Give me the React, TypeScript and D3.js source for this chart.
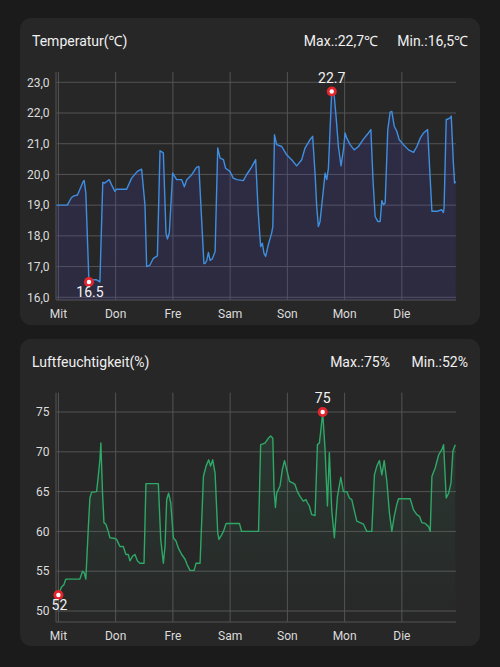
import React from "react";
import * as d3 from "d3";

const dayLabels = ["Mit", "Don", "Fre", "Sam", "Son", "Mon", "Die"];
const dayHours = [0, 24, 48, 72, 96, 120, 144];

const tempTicks = [16, 17, 18, 19, 20, 21, 22, 23];
const humTicks = [50, 55, 60, 65, 70, 75];

const tempHours = [
  -0.8, 3.7, 5.5, 6.5, 8.0, 10.4, 10.8, 11.5, 12.8, 13.9, 16.0, 17.4, 18.6, 19.5, 20.2, 21.3, 22.3, 23.7,
  24.4, 28.6, 30.7, 33.1, 34.9, 36.3, 37.0, 38.4, 39.8, 41.5, 42.6, 44.0, 45.1, 45.7, 46.5, 47.9,
  49.6, 51.7, 52.8, 53.8, 55.9, 57.9, 58.9, 61.0, 61.5, 62.2, 62.9, 63.6, 64.5, 65.7, 66.8, 67.8,
  69.2, 70.1, 71.9, 73.3, 74.8, 77.5, 78.9, 81.0, 82.7, 83.8, 84.8, 85.5, 86.2, 86.9, 88.0, 89.4,
  89.9, 90.6, 91.5, 93.6, 95.7, 97.8, 99.9, 102.0, 103.4, 105.5, 106.6, 107.6, 108.3, 109.0, 109.7,
  111.1, 111.8, 112.5, 113.2, 113.9, 114.6, 115.6, 116.4, 117.4, 118.5, 119.5, 120.2, 120.9, 122.3,
  124.0, 125.8, 127.9, 130.0, 131.0, 131.9, 132.8, 133.9, 134.9, 135.6, 136.3, 137.0, 138.1, 139.1,
  139.8, 140.8, 141.9, 142.9, 144.7, 146.8, 148.9, 150.3, 151.7, 153.1, 154.8, 155.9, 156.6, 158.7,
  160.7, 161.4, 161.7, 162.6, 164.3, 164.7, 165.6, 166.1, 166.6,
];
const tempValues = [
  19.0, 19.0, 19.25, 19.3, 19.33, 19.77, 19.8, 19.4, 16.5, 16.57, 16.57, 16.5, 19.74, 19.72, 19.77, 19.83, 19.66, 19.45,
  19.52, 19.52, 19.88, 20.1, 20.17, 19.0, 17.0, 17.05, 17.27, 17.35, 20.77, 20.7, 18.1, 17.9, 18.1, 20.04,
  19.83, 19.83, 19.6, 19.83, 19.99, 20.23, 20.26, 17.1, 17.1, 17.2, 17.46, 17.2, 17.25, 17.49, 20.86, 20.53,
  20.48, 20.2, 20.1, 19.88, 19.83, 19.8, 19.99, 20.24, 20.48, 18.74, 17.65, 17.76, 17.43, 17.33, 17.71, 18.09,
  18.3, 21.29, 20.97, 20.91, 20.64, 20.48, 20.28, 20.48, 20.86, 21.13, 21.24, 20.04, 18.96, 18.3, 18.47,
  19.5, 20.04, 19.83, 20.2, 21.46, 22.7, 22.6, 21.9, 20.91, 20.28, 20.8, 21.35, 21.18, 20.97,
  20.8, 20.91, 21.15, 21.35, 21.46, 19.83, 18.63, 18.47, 18.47, 19.15, 19.01, 19.07, 21.46, 22.03,
  22.05, 21.57, 21.4, 21.13, 20.97, 20.8, 20.72, 20.91, 21.18, 21.35, 21.46, 19.83, 18.8, 18.8,
  18.85, 18.76, 18.9, 21.78, 21.84, 21.9, 20.37, 19.72, 19.77,
];

const humHours = [
  0, 1.3, 2.3, 3.1, 9.0, 10.1, 10.8, 11.5, 12.5, 13.2, 13.9, 16.0, 16.7, 17.4, 17.8, 18.5, 19.1, 19.9,
  20.9, 21.6, 23.7, 24.4, 25.8, 27.2, 28.3, 29.3, 30.0, 31.1, 32.1, 33.1, 34.2, 35.9, 36.7, 41.9,
  42.9, 44.0, 44.7, 45.4, 46.2, 47.1, 48.2, 49.3, 50.3, 51.7, 53.1, 54.0, 55.2, 56.9, 57.7, 59.4,
  60.8, 61.9, 63.0, 63.8, 64.7, 65.7, 66.8, 67.3, 68.5, 69.2, 70.3, 75.9, 76.8, 83.9, 84.8, 86.6,
  88.0, 89.0, 89.9, 90.4, 91.0, 91.5, 92.9, 93.9, 94.8, 95.7, 96.9, 98.2, 99.2, 100.2, 101.3, 102.7,
  103.8, 104.4, 105.2, 106.2, 107.6, 108.6, 109.4, 110.0, 110.8, 111.8, 112.8, 113.6, 114.6, 115.7,
  117.0, 118.4, 119.5, 120.9, 122.0, 123.0, 124.0, 125.1, 126.5, 127.9, 129.3, 131.4, 132.5, 133.5,
  134.6, 135.6, 136.6, 137.7, 138.8, 139.8, 140.8, 141.9, 142.6, 147.5, 148.9, 150.3, 151.4, 152.4,
  153.8, 155.2, 155.9, 156.6, 158.0, 159.4, 160.8, 161.5, 162.6, 163.6, 164.6, 165.4, 166.4,
];
const humValues = [
  52, 53.0, 53.3, 54.0, 54.0, 55.0, 54.8, 54.0, 60.2, 64.2, 64.9, 65.0, 66.9, 69.0, 71.1, 64.8, 61.1, 60.9,
  60.0, 59.2, 59.1, 59.0, 58.1, 58.1, 57.1, 57.1, 56.3, 56.9, 57.1, 56.3, 56.0, 56.0, 66.0, 66.0,
  59.0, 56.0, 58.1, 64.0, 64.8, 63.6, 59.2, 58.8, 57.9, 57.1, 56.5, 55.8, 55.1, 55.1, 56.0, 56.0,
  66.9, 68.2, 69.0, 68.2, 69.0, 67.3, 59.8, 59.0, 59.6, 60.0, 61.0, 61.0, 60.0, 60.0, 70.9, 71.1,
  71.7, 72.0, 71.7, 65.3, 63.0, 64.8, 65.7, 67.8, 68.9, 67.8, 66.3, 66.1, 65.9, 65.0, 64.4, 63.8,
  64.0, 63.6, 63.2, 62.1, 62.0, 70.9, 71.1, 72.6, 75.0, 70.3, 63.2, 69.9, 62.7, 59.2,
  64.4, 66.8, 65.0, 65.0, 64.2, 64.0, 62.7, 61.3, 61.1, 60.9, 60.0, 60.0, 67.1, 68.2,
  68.9, 67.1, 68.9, 66.3, 62.3, 60.0, 61.9, 63.4, 64.1, 64.1, 62.7, 62.1, 61.9, 61.1,
  61.0, 60.6, 60.0, 66.9, 68.0, 69.6, 70.3, 70.9, 64.2, 64.8, 66.1, 70.1, 70.9,
];

const FONT = "Roboto, 'Noto Sans', sans-serif";

type ChartProps = {
  top: number;
  title: string;
  maxText: string;
  minText: string;
  maxTextEnd: number;
  hours: number[];
  values: number[];
  ticks: number[];
  yDomain: [number, number];
  plotTop: number;
  plotBottom: number;
  lineColor: string;
  fillId: string;
  tickFmt: (v: number) => string;
  labelFmt: (v: number) => string;
  fillStops: [string, number][];
};

function Chart(p: ChartProps) {
  const cardTop = p.top;
  const x = d3.scaleLinear().domain([-0.8, 166.7]).range([56.5, 456]);
  const y = d3.scaleLinear().domain(p.yDomain).range([p.plotBottom, p.plotTop]);
  const pts = p.hours.map((h, i) => [h, p.values[i]] as [number, number]);
  const line = d3.line<[number, number]>().x((d) => x(d[0])).y((d) => y(d[1]));
  const area = d3
    .area<[number, number]>()
    .x((d) => x(d[0]))
    .y0(p.plotBottom)
    .y1((d) => y(d[1]));
  const maxIdx = d3.maxIndex(p.values);
  const minIdx = d3.minIndex(p.values);
  const grid = "#545454";
  const marker = (i: number, above: boolean) => {
    const cx = x(p.hours[i]);
    const cy = y(p.values[i]);
    return (
      <g>
        <circle cx={cx} cy={cy} r={5} fill="#e3262d" />
        <circle cx={cx} cy={cy} r={2.2} fill="#ffffff" />
        <text
          x={cx + (above ? 0 : 1)}
          y={above ? cy - 9 : cy + 15}
          textAnchor="middle"
          fontSize={14}
          fill="#f2f2f2"
          fontFamily={FONT}
        >
          {p.labelFmt(p.values[i])}
        </text>
      </g>
    );
  };
  return (
    <g>
      <defs>
        <linearGradient id={p.fillId} x1="0" y1="0" x2="0" y2="1">
          {p.fillStops.map((s, i) => (
            <stop key={i} offset={i / (p.fillStops.length - 1)} stopColor={s[0]} stopOpacity={s[1]} />
          ))}
        </linearGradient>
      </defs>
      <rect x={20} y={cardTop} width={460} height={307} rx={11} fill="#272727" />
      <text x={32} y={cardTop + 28} fontSize={14} fill="#f0f0f0" fontFamily={FONT}>
        {p.title}
      </text>
      <text x={p.maxTextEnd} y={cardTop + 28} fontSize={14} fill="#f0f0f0" fontFamily={FONT} textAnchor="end">
        {p.maxText}
      </text>
      <text x={468} y={cardTop + 28} fontSize={14} fill="#f0f0f0" fontFamily={FONT} textAnchor="end">
        {p.minText}
      </text>
      {p.ticks.map((t) => (
        <line key={"h" + t} x1={56.5} x2={456} y1={y(t)} y2={y(t)} stroke={grid} strokeWidth={1} />
      ))}
      {dayHours.map((h) => (
        <line key={"v" + h} x1={x(h)} x2={x(h)} y1={p.plotTop} y2={p.plotBottom} stroke={grid} strokeWidth={1} />
      ))}
      <line x1={56} x2={56} y1={p.plotTop} y2={p.plotBottom} stroke={grid} strokeWidth={1} />
      <line x1={56} x2={456} y1={p.plotBottom} y2={p.plotBottom} stroke={grid} strokeWidth={1} />
      <path d={area(pts) || ""} fill={`url(#${p.fillId})`} />
      <path d={line(pts) || ""} fill="none" stroke={p.lineColor} strokeWidth={1.4} strokeLinejoin="round" />
      {p.ticks.map((t) => (
        <text
          key={"yl" + t}
          x={49.5}
          y={y(t) + 4.3}
          textAnchor="end"
          fontSize={12}
          fill="#dcdcdc"
          fontFamily={FONT}
        >
          {p.tickFmt(t)}
        </text>
      ))}
      {dayHours.map((h, i) => (
        <text
          key={"xl" + h}
          x={x(h)}
          y={p.plotBottom + 18}
          textAnchor="middle"
          fontSize={12}
          fill="#dcdcdc"
          fontFamily={FONT}
        >
          {dayLabels[i]}
        </text>
      ))}
      {marker(maxIdx, true)}
      {marker(minIdx, false)}
    </g>
  );
}

export default function App() {
  return (
    <div style={{ position: "fixed", left: 0, top: 0, width: 500, height: 667, background: "#1b1b1b" }}>
      <svg width={500} height={667} style={{ display: "block" }}>
        <rect x={0} y={0} width={500} height={667} fill="#1b1b1b" />
        <Chart
          top={18}
          title="Temperatur(℃)"
          maxText="Max.:22,7℃"
          minText="Min.:16,5℃"
          maxTextEnd={378}
          hours={tempHours}
          values={tempValues}
          ticks={tempTicks}
          yDomain={[15.912, 23.335]}
          plotTop={72}
          plotBottom={300}
          lineColor="#3f8ee0"
          fillId="tempFill"
          tickFmt={(v) => v.toFixed(1).replace(".", ",")}
          labelFmt={(v) => v.toFixed(1)}
          fillStops={[
            ["#4a40c0", 0.2],
            ["#4a40c0", 0.16],
          ]}
        />
        <Chart
          top={339}
          title="Luftfeuchtigkeit(%)"
          maxText="Max.:75%"
          minText="Min.:52%"
          maxTextEnd={390}
          hours={humHours}
          values={humValues}
          ticks={humTicks}
          yDomain={[48.616, 77.428]}
          plotTop={392.7}
          plotBottom={622}
          lineColor="#2ea866"
          fillId="humFill"
          tickFmt={(v) => String(v)}
          labelFmt={(v) => String(Math.round(v))}
          fillStops={[
            ["#3aa070", 0.16],
            ["#3aa070", 0.0],
          ]}
        />
      </svg>
    </div>
  );
}
